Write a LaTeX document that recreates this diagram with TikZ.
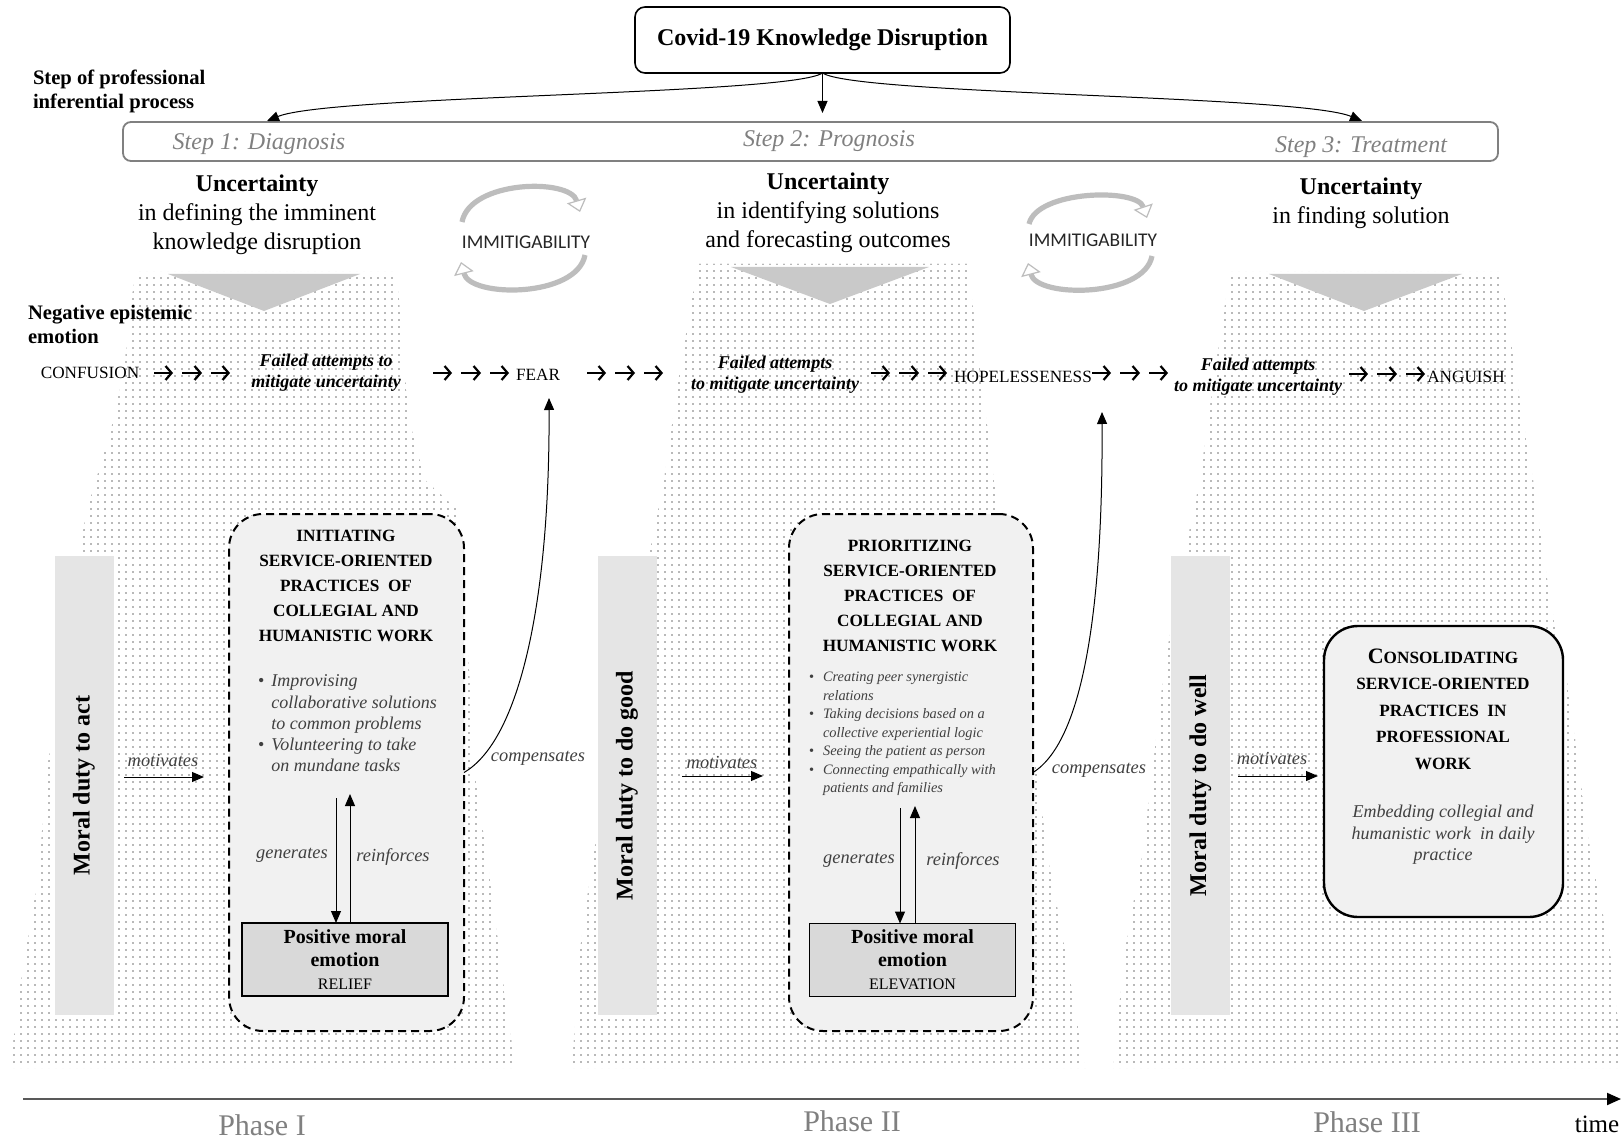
\documentclass[tikz,border=0pt]{standalone}
\usepackage{fontspec}
\setmainfont{Liberation Serif}
\newfontfamily\calibfont{Carlito}
\usetikzlibrary{arrows.meta,patterns.meta}

\newcommand{\setfs}[2]{\fontsize{#1}{#2}\selectfont}

\definecolor{bargray}{HTML}{E5E5E5}
\definecolor{boxgray}{HTML}{F1F1F1}
\definecolor{emogray}{HTML}{D9D9D9}
\definecolor{trigray}{HTML}{C9C9C9}
\definecolor{txtgray}{HTML}{404040}
\definecolor{stepgray}{HTML}{808080}
\definecolor{cyclegray}{HTML}{BDBDBD}

% fine dot screen used for the three phase areas
\tikzdeclarepattern{
  name=stipple,
  type=uncolored,
  bounding box={(-1.75pt,-1.75pt) and (1.75pt,1.75pt)},
  tile size={(3.5pt,3.5pt)},
  code={\fill (0pt,0pt) circle (0.45pt);}
}

\tikzset{
  covidbox/.style={draw, line width=0.8pt, rounded corners=5pt, minimum width=187.5pt,
    minimum height=33pt, font=\bfseries\setfs{12}{14}},
  stepbar/.style={draw=stepgray, line width=0.9pt, rounded corners=4pt, fill=white,
    minimum width=687.5pt, minimum height=19.5pt},
  steplabel/.style={font=\itshape\setfs{12}{14}, text=stepgray},
  uncert/.style={align=center, font=\setfs{12}{14.5}},
  sidehead/.style={anchor=west, align=left, font=\bfseries\setfs{10.3}{12}},
  emoword/.style={font=\setfs{8.6}{10}},
  failed/.style={align=center, font=\bfseries\itshape\setfs{9}{10.5}},
  chevron/.style={line width=1.1pt, -{Straight Barb[length=3pt,width=7pt,line width=1.1pt]}},
  stipple/.style={pattern={stipple}, pattern color=black!55},
  cone/.style={fill=trigray},
  dutybar/.style={fill=bargray, minimum width=29.5pt, minimum height=229.5pt},
  dutytext/.style={rotate=90, font=\bfseries\setfs{12}{14}},
  dashbox/.style={draw, line width=1pt, dash pattern=on 4pt off 2.5pt, rounded corners=17pt,
    fill=boxgray, minimum height=258.5pt},
  solidbox/.style={draw, line width=1.2pt, rounded corners=17pt, fill=boxgray,
    minimum width=119.5pt, minimum height=145.5pt},
  ptitle/.style={align=center, font=\bfseries\setfs{8.6}{12.6}},
  emobox/.style={draw, line width=0.9pt, fill=emogray, align=center, font=\setfs{10}{11.5},
    minimum width=103pt, minimum height=36.5pt},
  lbl/.style={font=\itshape\setfs{9.2}{11}, text=txtgray},
  flow/.style={line width=0.5pt, -{Triangle[length=6pt,width=5pt]}},
  cyc/.style={draw=cyclegray, line width=2.6pt,
    -{Triangle[open, fill=white, length=6pt, width=10pt, line width=0.6pt]}},
  phaselbl/.style={font=\setfs{15}{17}, text=stepgray},
  immit/.style={font=\calibfont\setfs{9.7}{11}, text=black!85},
  arrowtrio/.pic={
    \draw[chevron] (-38,0) -- (-19,0);
    \draw[chevron] (-10,0) -- (10,0);
    \draw[chevron] (19,0) -- (38,0);
  }
}

\begin{document}
\begin{tikzpicture}[x=0.5pt, y=-0.5pt, every node/.style={inner sep=0pt, outer sep=0pt}]
\useasboundingbox (0,0) rectangle (1623,1139);
\fill[white] (0,0) rectangle (1623,1139);

% ---------- dotted phase areas ----------
\fill[stipple] (135,272) -- (397,272) -- (404,370) -- (412,430) -- (425,480) -- (460,512)
  -- (475,776) -- (489,873) -- (503,980) -- (515,1068) -- (10,1068) -- (21,980) -- (39,873)
  -- (46,776) -- (86,512) -- (96,480) -- (111,430) -- (124,370) -- cycle;
\fill[stipple] (698,264) -- (968,264) -- (980,370) -- (994,480) -- (1015,600) -- (1035,760)
  -- (1049,863) -- (1065,950) -- (1085,1068) -- (572,1068) -- (580,950) -- (592,863)
  -- (610,760) -- (640,600) -- (664,480) -- (680,370) -- cycle;
\fill[stipple] (1230,272) -- (1501,272) -- (1515,370) -- (1533,480) -- (1550,600) -- (1567,680)
  -- (1590,850) -- (1610,950) -- (1623,1068) -- (1113,1068) -- (1125,950) -- (1143,850)
  -- (1163,680) -- (1175,600) -- (1200,480) -- (1215,370) -- cycle;

% ---------- funnels under each uncertainty ----------
\fill[cone] (168,274) -- (360,274) -- (264,311) -- cycle;
\fill[cone] (731,267) -- (929,267) -- (830,304) -- cycle;
\fill[cone] (1269,274) -- (1462,274) -- (1364,311) -- cycle;

% ---------- top: disruption and inferential steps ----------
\node[covidbox] (covid) at (822.5,40) {Covid-19 Knowledge Disruption};
\node[stepbar] (steps) at (810.5,141.5) {};
\node[steplabel] (st1) at (259,144) {Step 1: Diagnosis};
\node[steplabel] (st2) at (829,141) {Step 2: Prognosis};
\node[steplabel] (st3) at (1361,147) {Step 3: Treatment};
\coordinate (s1) at (267,121);
\coordinate (s2) at (822.5,113);
\coordinate (s3) at (1362,121);
\draw[flow] (covid.south) .. controls (790,95) and (330,95) .. (s1);
\draw[flow] (covid.south) -- (s2);
\draw[flow] (covid.south) .. controls (856,95) and (1300,95) .. (s3);

\node[sidehead] (stephead) at (33,91.5) {Step of professional\\inferential process};

\node[uncert] (u1) at (257,215) {\textbf{Uncertainty}\\in defining the imminent\\knowledge disruption};
\node[uncert] (u2) at (828,213) {\textbf{Uncertainty}\\in identifying solutions\\and forecasting outcomes};
\node[uncert] (u3) at (1361,203) {\textbf{Uncertainty}\\in finding solution};

% ---------- immitigability cycles ----------
\node[immit] (im1) at (526,242) {IMMITIGABILITY};
\draw[cyc] (462,222) .. controls (470,180) and (570,178) .. (580,212);
\draw[cyc] (585,255) .. controls (577,298) and (470,298) .. (461,262);
\node[immit] (im2) at (1093,240) {IMMITIGABILITY};
\draw[cyc] (1029,224) .. controls (1037,190) and (1137,188) .. (1147,218);
\draw[cyc] (1152,256) .. controls (1144,298) and (1037,298) .. (1028,263);

% ---------- negative epistemic emotions ----------
\node[sidehead] (neghead) at (28,324) {Negative epistemic\\emotion};
\node[emoword] (confusion) at (90,373) {CONFUSION};
\pic at (192,373) {arrowtrio};
\node[failed] (fa1) at (326,373) {Failed attempts to\\mitigate uncertainty};
\pic at (471,373) {arrowtrio};
\node[emoword] (fear) at (538,375) {FEAR};
\pic at (625,373) {arrowtrio};
\node[failed] (fa2) at (775,375) {Failed attempts\\to mitigate uncertainty};
\pic at (909,373) {arrowtrio};
\node[emoword] (hope) at (1023,377) {HOPELESSENESS};
\pic at (1130,373) {arrowtrio};
\node[failed] (fa3) at (1258,377) {Failed attempts\\to mitigate uncertainty};
\pic at (1387,374) {arrowtrio};
\node[emoword] (anguish) at (1466,377) {ANGUISH};

% ---------- moral duties ----------
\node[dutybar] (bar1) at (84,785.5) {};
\node[dutytext] at (bar1) {Moral duty to act};
\node[dutybar] (bar2) at (627,785.5) {};
\node[dutytext] at (bar2) {Moral duty to do good};
\node[dutybar] (bar3) at (1200.5,785.5) {};
\node[dutytext] at (bar3) {Moral duty to do well};

% ---------- phase I practices ----------
\node[dashbox, minimum width=117.5pt] (prac1) at (346.5,772.5) {};
\node[ptitle] (pt1) at (346,586) {INITIATING\\SERVICE-ORIENTED\\PRACTICES\enspace OF\\COLLEGIAL AND\\HUMANISTIC WORK};
\node[anchor=north west, text=txtgray, font=\itshape\setfs{9}{10.6}] (pl1) at (258,672)
  {\begin{tabular}{@{}l@{\hspace{3.5pt}}l@{}}
   \upshape\textbullet & Improvising\\
    & collaborative solutions\\
    & to common problems\\
   \upshape\textbullet & Volunteering to take\\
    & on mundane tasks
   \end{tabular}};
\node[emobox] (pos1) at (345,959.5) {\textbf{Positive moral}\\\textbf{emotion}\\{\setfs{8}{11.5}RELIEF}};
\coordinate (g1) at (336,798);
\coordinate (r1) at (350,794);
\draw[flow] (g1) -- (g1 |- pos1.north);
\draw[flow] (r1 |- pos1.north) -- (r1);
\node[lbl] (gen1) at (292,855) {generates};
\node[lbl] (rei1) at (393,857) {reinforces};

\coordinate (m1a) at (124,777);
\coordinate (m1b) at (204,777);
\draw[flow] (m1a) -- (m1b);
\node[lbl] (mot1) at (163,760) {motivates};

\coordinate (fearin) at (549,398);
\draw[flow] (prac1.east) .. controls (520,740) and (550,600) .. (fearin);
\node[lbl] (comp1) at (538,758) {compensates};

% ---------- phase II practices ----------
\node[dashbox, minimum width=122pt] (prac2) at (911,772.5) {};
\node[ptitle] (pt2) at (910,596) {PRIORITIZING\\SERVICE-ORIENTED\\PRACTICES\enspace OF\\COLLEGIAL AND\\HUMANISTIC WORK};
\node[anchor=north west, text=txtgray, font=\itshape\setfs{7.2}{9.25}] (pl2) at (809,669)
  {\begin{tabular}{@{}l@{\hspace{4.5pt}}l@{}}
   \upshape\textbullet & Creating peer synergistic\\
    & relations\\
   \upshape\textbullet & Taking decisions based on a\\
    & collective experiential logic\\
   \upshape\textbullet & Seeing the patient as person\\
   \upshape\textbullet & Connecting empathically with\\
    & patients and families
   \end{tabular}};
\node[emobox] (pos2) at (912.5,960) {\textbf{Positive moral}\\\textbf{emotion}\\{\setfs{8}{11.5}ELEVATION}};
\coordinate (g2) at (900,808);
\coordinate (r2) at (915,806);
\draw[flow] (g2) -- (g2 |- pos2.north);
\draw[flow] (r2 |- pos2.north) -- (r2);
\node[lbl] (gen2) at (859,860) {generates};
\node[lbl] (rei2) at (963,861) {reinforces};

\coordinate (m2a) at (682,776);
\coordinate (m2b) at (763,776);
\draw[flow] (m2a) -- (m2b);
\node[lbl] (mot2) at (722,762) {motivates};

\coordinate (hopein) at (1102,412);
\draw[flow] (prac2.east) .. controls (1085,740) and (1103,600) .. (hopein);
\node[lbl] (comp2) at (1099,770) {compensates};

% ---------- phase III practices ----------
\node[solidbox] (prac3) at (1443.5,771.5) {};
\node[ptitle, font=\bfseries\setfs{8.6}{13.25}] (pt3) at (1443,709)
  {{\setfs{11}{13.25}C}ONSOLIDATING\\SERVICE-ORIENTED\\PRACTICES\enspace IN\\PROFESSIONAL\\WORK};
\node[align=center, text=txtgray, font=\itshape\setfs{9}{10.75}] (pl3) at (1443,835)
  {Embedding collegial and\\humanistic work\enspace in daily\\practice};
\coordinate (m3a) at (1238,776);
\coordinate (m3b) at (1318,776);
\draw[flow] (m3a) -- (m3b);
\node[lbl] (mot3) at (1272,758) {motivates};

% ---------- time axis ----------
\coordinate (t0) at (23,1099);
\coordinate (t1) at (1621,1099);
\draw[draw=black!65, line width=1pt, -{Triangle[length=7pt,width=6pt,color=black]}] (t0) -- (t1);
\node[phaselbl] (ph1) at (262,1125) {Phase I};
\node[phaselbl] (ph2) at (852,1121) {Phase II};
\node[phaselbl] (ph3) at (1367,1122) {Phase III};
\node[font=\setfs{12.5}{14}] (time) at (1597,1124) {time};
\end{tikzpicture}
\end{document}
